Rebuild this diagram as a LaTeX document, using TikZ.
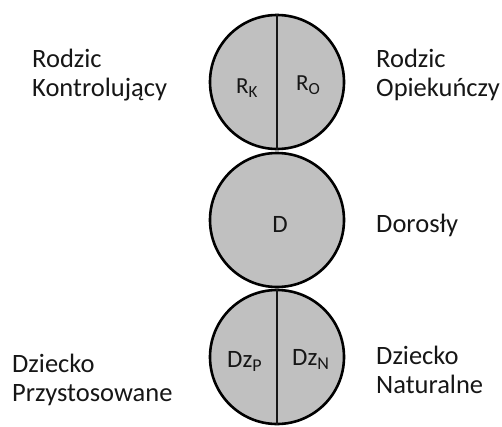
\documentclass[tikz,border=0pt]{standalone}
\usepackage{fontspec}
\setmainfont{Carlito}
\definecolor{circfill}{RGB}{192,192,192}
\definecolor{ink}{RGB}{22,22,22}
\newcommand{\egosub}[1]{\raisebox{-0.18em}{\fontsize{17}{17}\selectfont #1}}
\newcommand{\egosubbig}[1]{\raisebox{-0.18em}{\fontsize{18}{18}\selectfont #1}}
\begin{document}
\begin{tikzpicture}[x=1pt,y=-1pt,
  ego/.style={circle,draw=black,line width=2.6pt,fill=circfill,minimum size=134pt,inner sep=0pt},
  divider/.style={draw=ink,line width=1.5pt},
  lbl/.style={font=\fontsize{26.5}{29}\selectfont,text=ink,align=left,inner sep=0pt,anchor=north west},
  inlbl/.style={font=\fontsize{25}{29}\selectfont,text=ink,inner sep=0pt,anchor=base west},
  rlbl/.style={font=\fontsize{23}{27}\selectfont,text=ink,inner sep=0pt,anchor=base west}]
\useasboundingbox (0,0) rectangle (502,426);
\node[ego] (P) at (277,82) {};
\node[ego] (A) at (277,220) {};
\node[ego] (C) at (277,357) {};
\draw[divider] (P.north) -- (P.south);
\draw[divider] (C.north) -- (C.south);
\node[rlbl] (rk) at (236,93) {R\egosub{K}};
\node[rlbl] (ro) at (296,90) {R\egosub{O}};
\node[inlbl,anchor=base] (d) at (280,232) {D};
\node[inlbl] (dzp) at (227,367) {Dz\egosubbig{P}};
\node[inlbl] (dzn) at (292,365) {Dz\egosubbig{N}};
\node[lbl] (lk) at (32,49) {Rodzic\\Kontrolujący};
\node[lbl] (lo) at (376,49) {Rodzic\\Opiekuńczy};
\node[lbl,anchor=base west] (ld) at (376,232) {Dorosły};
\node[lbl] (lp) at (12,354) {Dziecko\\Przystosowane};
\node[lbl] (ln) at (376,346) {Dziecko\\Naturalne};
\end{tikzpicture}
\end{document}
